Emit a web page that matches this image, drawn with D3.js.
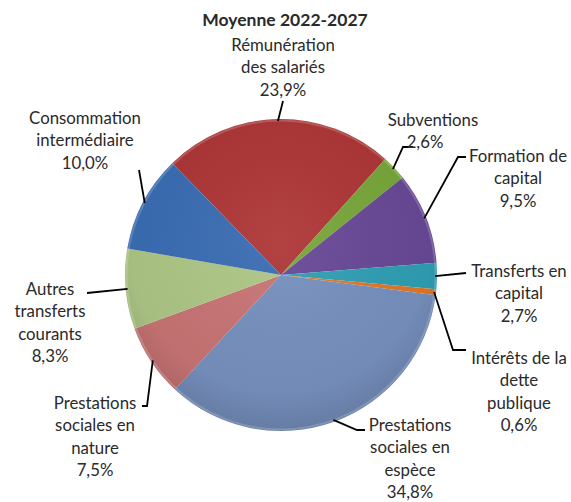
<!DOCTYPE html>
<html>
<head>
<meta charset="utf-8">
<script src="https://cdn.jsdelivr.net/npm/d3@7"></script>
<style>
  body { margin: 0; background: #fff; }
  svg text { font-family: Lato, "Open Sans", sans-serif; fill: #2a2a2a; }
</style>
</head>
<body>
<div id="chart"></div>
<script>
// data, in drawing order (clockwise)
var labels = [
  ["Rémunération", "des salariés"],
  ["Subventions"],
  ["Formation de", "capital"],
  ["Transferts en", "capital"],
  ["Intérêts de la", "dette", "publique"],
  ["Prestations", "sociales en", "espèce"],
  ["Prestations", "sociales en", "nature"],
  ["Autres", "transferts", "courants"],
  ["Consommation", "intermédiaire"]
];
var values = [23.9, 2.6, 9.5, 2.7, 0.6, 34.8, 7.5, 8.3, 10.0];
var colors = ["#ae3636", "#78a63a", "#684896", "#2f9fb4", "#e07828", "#7690be", "#c87474", "#aec686", "#3a6db3"];

var width = 571, height = 502;
var cx = 281, cy = 275, r = 156;
var startDeg = -44.2;

var svg = d3.select("#chart").append("svg")
  .attr("width", width)
  .attr("height", height);

var defs = svg.append("defs");
var shade = defs.append("radialGradient").attr("id", "shade")
  .attr("cx", "50%").attr("cy", "40%").attr("r", "60%");
shade.append("stop").attr("offset", "0%").attr("stop-color", "#fff").attr("stop-opacity", 0.06);
shade.append("stop").attr("offset", "80%").attr("stop-color", "#000").attr("stop-opacity", 0.04);
shade.append("stop").attr("offset", "100%").attr("stop-color", "#000").attr("stop-opacity", 0.14);

var pie = d3.pie().sort(null).value(function(d) { return d; })
  .startAngle(startDeg * Math.PI / 180)
  .endAngle((startDeg + 360) * Math.PI / 180);
var arcs = pie(values);
var arc = d3.arc().innerRadius(0).outerRadius(r);

var g = svg.append("g").attr("transform", "translate(" + cx + "," + cy + ")");

g.selectAll(".slice").data(arcs)
  .enter()
  .append("path")
  .attr("class", "slice")
  .attr("d", arc)
  .attr("fill", function(d, i) { return colors[i]; });

g.append("circle").attr("r", r).attr("fill", "url(#shade)");
g.append("circle").attr("r", r - 1.5).attr("fill", "none")
  .attr("stroke", "#fff").attr("stroke-opacity", 0.18).attr("stroke-width", 2);

// label placement: center x, first line y, and leader polyline (end points from pie edge outward)
var labelPos = [
  {x: 283, y: 51, elbow: [[283, 101]]},
  {x: 433, y: 126, elbow: [[403, 147], [413, 147]], pctX: 425},
  {x: 518, y: 162, elbow: [[458, 157], [466, 157]]},
  {x: 519, y: 277, elbow: [[466, 273]]},
  {x: 519, y: 364, elbow: [[453, 350], [466, 350]]},
  {x: 410, y: 431, elbow: [[357, 430], [365, 430]]},
  {x: 95, y: 409, elbow: [[147, 406], [142, 406]]},
  {x: 50, y: 295, elbow: [[87, 293]]},
  {x: 85, y: 124, elbow: [[139, 170]]}
];

var lh = 22.3;
var fmt = function(v) { return v.toFixed(1).replace(".", ",") + "%"; };

arcs.forEach(function(d, i) {
  var p = labelPos[i];
  var mid = (d.startAngle + d.endAngle) / 2;
  var ex = cx + Math.sin(mid) * (r - 2);
  var ey = cy - Math.cos(mid) * (r - 2);
  var pts = [[ex, ey]].concat(p.elbow);
  svg.append("path")
    .attr("d", d3.line()(pts))
    .attr("fill", "none")
    .attr("stroke", "#000")
    .attr("stroke-width", 1.8);

  var t = svg.append("text")
    .attr("text-anchor", "middle")
    .attr("font-size", "16.8px");
  labels[i].forEach(function(line, k) {
    t.append("tspan").attr("x", p.x).attr("y", p.y + k * lh).text(line);
  });
  t.append("tspan")
    .attr("x", p.pctX || p.x)
    .attr("y", p.y + labels[i].length * lh)
    .text(fmt(values[i]));
});

svg.append("text")
  .attr("x", 285)
  .attr("y", 26)
  .attr("text-anchor", "middle")
  .attr("font-size", "17.5px")
  .attr("font-weight", "bold")
  .text("Moyenne 2022-2027");
</script>
</body>
</html>
